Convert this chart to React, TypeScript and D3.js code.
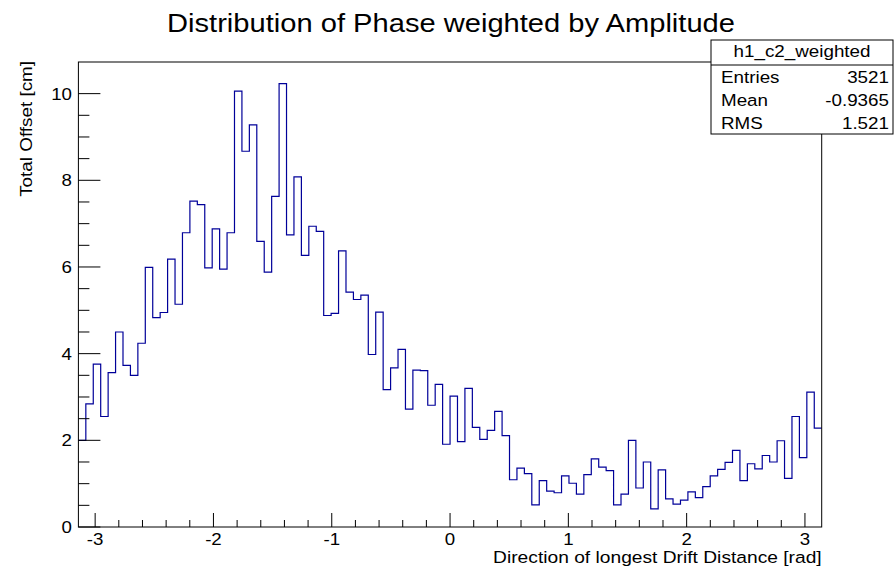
import React from "react";
import * as d3 from "d3";

const chartTitle = "Distribution of Phase weighted by Amplitude";
const xAxisTitle = "Direction of longest Drift Distance [rad]";
const yAxisTitle = "Total Offset [cm]";

const nBins = 100;
const xMin = -Math.PI;
const xMax = Math.PI;
const yMax = 10.73;

const binValues = [
  2.0, 2.84, 3.76, 2.55, 3.56, 4.5, 3.73, 3.5, 4.24, 5.99, 4.83, 4.95, 6.18, 5.14,
  6.79, 7.52, 7.44, 5.98, 6.88, 5.95, 6.79, 10.06, 8.67, 9.28, 6.59, 5.88, 7.63, 10.23, 6.74, 8.08, 6.27, 6.94, 6.82,
  4.88, 4.93, 6.37, 5.42, 5.25, 5.35, 3.98, 4.96, 3.17, 3.67, 4.1, 2.72, 3.62, 3.61, 2.81,
  3.29, 1.91, 3.02, 1.97, 3.2, 2.3, 2.02, 2.23, 2.67, 2.11, 1.09, 1.36, 1.23, 0.51, 1.07, 0.83,
  0.79, 1.18, 1.01, 0.76, 1.21, 1.57, 1.38, 1.3, 0.51, 0.76, 2.0, 0.9, 1.5, 0.42, 1.32, 0.65, 0.53,
  0.62, 0.81, 0.68, 0.93, 1.18, 1.33, 1.49, 1.77, 1.07, 1.46, 1.34, 1.65, 1.5, 1.99, 1.12, 2.55, 1.6, 3.11, 2.28,
];

const xMajorTicks = [-3, -2, -1, 0, 1, 2, 3];
const xMinorTicks = d3.range(-30, 31, 2).map((v) => v / 10);
const yMajorTicks = [0, 2, 4, 6, 8, 10];
const yMinorTicks = d3.range(0, 21).map((v) => v / 2);

const statsName = "h1_c2_weighted";
const statsLabels = ["Entries", "Mean", "RMS"];
const statsValues = ["3521", "-0.9365", "1.521"];

const W = 894;
const H = 571;
const frame = { left: 78.4, right: 821.7, top: 62, bottom: 527 };
const FONT = "'Liberation Sans', Arial, Helvetica, sans-serif";

function SText(props: {
  x: number;
  y: number;
  size: number;
  anchor?: string;
  sx?: number;
  rotate?: number;
  children: React.ReactNode;
}) {
  const { x, y, size, anchor = "start", sx = 1.12, rotate = 0, children } = props;
  return (
    <g transform={`translate(${x},${y}) rotate(${rotate}) scale(${sx},1)`}>
      <text x={0} y={0} textAnchor={anchor} fontSize={size} fill="#000">
        {children}
      </text>
    </g>
  );
}

export default function App() {
  const x = d3.scaleLinear().domain([xMin, xMax]).range([frame.left, frame.right]);
  const y = d3.scaleLinear().domain([0, yMax]).range([frame.bottom, frame.top]);
  const binW = (xMax - xMin) / nBins;
  const pts: [number, number][] = binValues.map((v, i) => [xMin + i * binW, v]);
  pts.push([xMax, binValues[binValues.length - 1]]);
  const line = d3
    .line<[number, number]>()
    .x((d) => x(d[0]))
    .y((d) => y(d[1]))
    .curve(d3.curveStepAfter);
  const histPath = line(pts) || "";

  const majY = 22;
  const minY = 11;
  const majX = 14;
  const minX = 7;

  const box = { x0: 711, x1: 893, y0: 40, y1: 134, hdr: 65 };

  return (
    <svg
      width={W}
      height={H}
      style={{ position: "absolute", left: 0, top: 0, background: "#fff" }}
      fontFamily={FONT}
    >
      <rect x={0} y={0} width={W} height={H} fill="#fff" />
      <SText x={451} y={32} size={26} anchor="middle" sx={1.12}>
        {chartTitle}
      </SText>

      {/* histogram */}
      <path d={histPath} fill="none" stroke="#000099" strokeWidth={1.2} />

      {/* frame */}
      <rect
        x={frame.left}
        y={frame.top}
        width={frame.right - frame.left}
        height={frame.bottom - frame.top}
        fill="none"
        stroke="#000"
        strokeWidth={1}
      />

      {/* y ticks */}
      {yMinorTicks.map((v) => (
        <line
          key={"ym" + v}
          x1={frame.left}
          x2={frame.left + (v % 2 === 0 ? majY : minY)}
          y1={y(v)}
          y2={y(v)}
          stroke="#000"
          strokeWidth={1}
        />
      ))}
      {yMajorTicks.map((v) => (
        <SText key={"yl" + v} x={72} y={y(v) + 6} size={17} anchor="end" sx={1.1}>
          {v}
        </SText>
      ))}

      {/* x ticks */}
      {xMinorTicks.map((v) => {
        const major = Math.abs(v - Math.round(v)) < 1e-6;
        return (
          <line
            key={"xm" + v}
            x1={x(v)}
            x2={x(v)}
            y1={frame.bottom}
            y2={frame.bottom - (major ? majX : minX)}
            stroke="#000"
            strokeWidth={1}
          />
        );
      })}
      {xMajorTicks.map((v) => (
        <SText key={"xl" + v} x={x(v)} y={545} size={17} anchor="middle" sx={1.1}>
          {v}
        </SText>
      ))}

      {/* axis titles */}
      <SText x={frame.right} y={563} size={17} anchor="end" sx={1.13}>
        {xAxisTitle}
      </SText>
      <SText x={32} y={frame.top - 1} size={17} anchor="end" rotate={-90} sx={1.11}>
        {yAxisTitle}
      </SText>

      {/* stats box */}
      <rect
        x={box.x0}
        y={box.y0}
        width={box.x1 - box.x0}
        height={box.y1 - box.y0}
        fill="#fff"
        stroke="#000"
        strokeWidth={1}
      />
      <line x1={box.x0} x2={box.x1} y1={box.hdr} y2={box.hdr} stroke="#000" strokeWidth={1} />
      <SText x={(box.x0 + box.x1) / 2} y={57} size={16.5} anchor="middle" sx={1.14}>
        {statsName}
      </SText>
      {statsLabels.map((lab, i) => (
        <g key={lab}>
          <SText x={721} y={82.7 + i * 23.3} size={16.5} sx={1.14}>
            {lab}
          </SText>
          <SText x={889} y={82.7 + i * 23.3} size={16.5} anchor="end" sx={1.14}>
            {statsValues[i]}
          </SText>
        </g>
      ))}
    </svg>
  );
}
